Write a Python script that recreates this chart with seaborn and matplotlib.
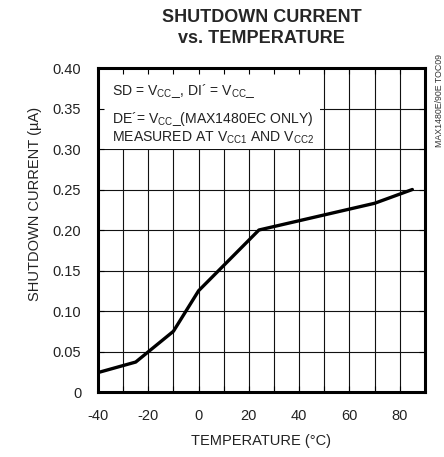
import numpy as np
import pandas as pd
import matplotlib
matplotlib.use('Agg')
import matplotlib.pyplot as plt
from matplotlib.patches import Rectangle
from matplotlib.ticker import MultipleLocator
import seaborn as sns

# 数据
temperature = [-40, -25, -10, 0, 24, 70, 85]
current = [0.024, 0.037, 0.075, 0.125, 0.200, 0.233, 0.250]

x_ticks = [-40, -20, 0, 20, 40, 60, 80]
y_ticks = [0, 0.05, 0.10, 0.15, 0.20, 0.25, 0.30, 0.35, 0.40]
y_ticklabels = ['0', '0.05', '0.10', '0.15', '0.20', '0.25', '0.30', '0.35', '0.40']
x_grid = list(range(-30, 90, 10))

title = 'SHUTDOWN CURRENT\nvs. TEMPERATURE'
xlabel = 'TEMPERATURE (°C)'
ylabel = 'SHUTDOWN CURRENT (µA)'
notes = [
    'SD = V$_{\\mathregular{CC}}$_, DI´ = V$_{\\mathregular{CC}}$_',
    'DE´= V$_{\\mathregular{CC}}$_(MAX1480EC ONLY)',
    'MEASURED AT V$_{\\mathregular{CC1}}$ AND V$_{\\mathregular{CC2}}$',
]
side_note = 'MAX1480E/90E TOC09'

sns.set_style('ticks')
fam = ['Liberation Sans Narrow', 'Liberation Sans', 'DejaVu Sans']
plt.rcParams['font.family'] = fam
plt.rcParams['mathtext.fontset'] = 'custom'
plt.rcParams['mathtext.rm'] = 'Liberation Sans'
plt.rcParams['axes.unicode_minus'] = False

df = pd.DataFrame({'temp': temperature, 'current': current})

fig = plt.figure(figsize=(4.44, 4.57), dpi=100)
ax = fig.add_axes([0.2207, 0.1422, 0.7363, 0.709])

sns.lineplot(data=df, x='temp', y='current', ax=ax, color='black', lw=2.4, zorder=3)

ax.set_xlim(-40, 90)
ax.set_ylim(0, 0.40)

# 网格
ax.vlines(x_grid, 0, 0.40, color='#111111', lw=0.8, zorder=0.5)
ax.hlines(y_ticks[1:-1], -40, 90, color='#111111', lw=0.8, zorder=0.5)

# 注释框 (白底遮住网格)
ax.add_patch(Rectangle((0, 0.75), 0.68, 0.25, transform=ax.transAxes,
                       facecolor='white', edgecolor='none', zorder=1))
ax.set_axisbelow(False)

ax.set_xticks(x_ticks)
ax.xaxis.set_minor_locator(MultipleLocator(10))
ax.set_yticks(y_ticks)
ax.set_yticklabels(y_ticklabels)
ax.tick_params(which='both', direction='in', top=True, right=True,
               length=4, width=0.8, color='black')
ax.tick_params(which='major', labelsize=10.5, pad=12, labelcolor='#222222')

for s in ax.spines.values():
    s.set_linewidth(2.2)
    s.set_color('black')
    s.set_visible(True)

ax.set_xlabel(xlabel, fontsize=10.5, color='#222222', labelpad=8)
ax.set_ylabel(ylabel, fontsize=10.5, color='#222222')
ax.yaxis.set_label_coords(-0.17, 0.58)

ax.set_title(title, fontsize=13, fontweight='bold', linespacing=1.3, pad=18)

note_y = [0.917, 0.830, 0.772]
for t, ny in zip(notes, note_y):
    ax.text(0.043, ny, t, transform=ax.transAxes, fontsize=10.1,
            color='#222222', va='baseline', zorder=4)

fig.text(1.0, 0.779, side_note, rotation=90, fontsize=6.3,
         ha='right', va='center', color='#333333')

fig.savefig('out.png', dpi=100)
